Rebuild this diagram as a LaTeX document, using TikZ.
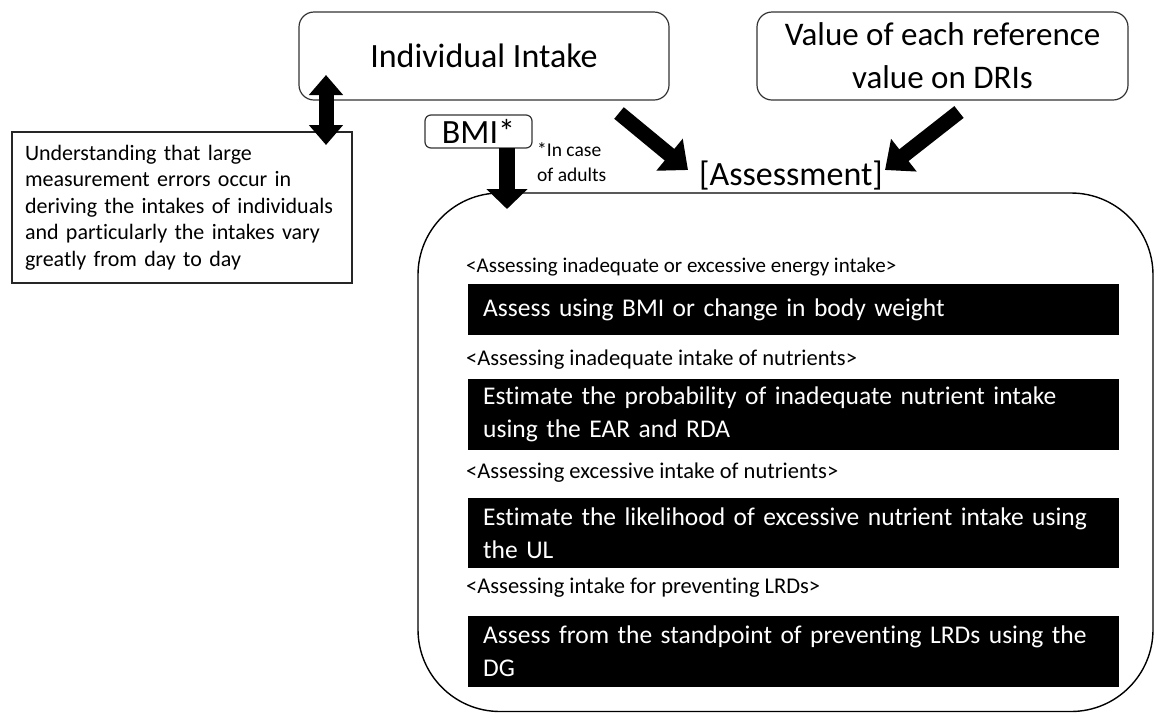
\documentclass[tikz,border=0pt]{standalone}
\usepackage{fontspec}
\setmainfont{Carlito}[Ligatures=NoCommon]
\usetikzlibrary{arrows.meta}
\begin{document}
\begin{tikzpicture}[x=1pt,y=-1pt,
  rbox/.style={draw=black!80, line width=1.2pt, rounded corners=15pt},
  blk/.style={fill=black, text=white, inner xsep=15pt, inner ysep=0pt, align=left,
    minimum width=651pt, text width=621pt, font=\fontsize{25.5}{33}\selectfont, anchor=west},
  lbl/.style={anchor=west, inner sep=0pt, font=\fontsize{22.5}{26}\selectfont},
  fat/.style={line width=15pt, -{Triangle[width=40pt,length=24pt]}},
  dbl/.style={line width=15pt, {Triangle[width=33pt,length=20pt]}-{Triangle[width=33pt,length=20pt]}}
]
\useasboundingbox (0,0) rectangle (1154,713);
% big assessment frame
\draw[line width=1.4pt, rounded corners=82pt] (418,193) rectangle (1153,711.5);
% top boxes
\node[rbox, minimum width=370pt, minimum height=88pt, font=\fontsize{34}{40}\selectfont] (intake) at (484,56) {Individual Intake};
\node[rbox, minimum width=371pt, minimum height=88pt, align=center, font=\fontsize{33}{43}\selectfont] (dri) at (942.5,56) {Value of each reference\\value on DRIs};
\node[rbox, rounded corners=6pt, minimum width=107pt, minimum height=33pt, inner sep=0pt, font=\fontsize{34}{36}\selectfont] (bmi) at (478.5,131.5) {BMI*};
\node[anchor=west, inner sep=0pt, align=left, font=\fontsize{19.5}{25}\selectfont] (note) at (537,162.5) {*In case\\of adults};
% left note
\node[draw=black!85, line width=1.1pt, minimum width=340pt, minimum height=151pt, text width=314pt, inner xsep=13pt, align=left, font=\fontsize{22}{26.5}\selectfont] (err) at (182,207.5) {Understanding that large\\measurement errors occur in\\deriving the intakes of individuals\\and particularly the intakes vary\\greatly from day to day};
% assessment title
\node[inner sep=0pt, font=\fontsize{34}{40}\selectfont] (assess) at (791,176) {[Assessment]};
% categories
\node[lbl, font=\fontsize{21}{26}\selectfont] (l1) at (466,267) {<Assessing inadequate or excessive energy intake>};
\node[blk, minimum height=51pt] (k1) at (468,309.5) {Assess using BMI or change in body weight};
\node[lbl] (l2) at (466,360) {<Assessing inadequate intake of nutrients>};
\node[blk, minimum height=71pt] (k2) at (468,414.5) {Estimate the probability of inadequate nutrient intake\\using the EAR and RDA};
\node[lbl] (l3) at (466,473) {<Assessing excessive intake of nutrients>};
\node[blk, minimum height=70pt] (k3) at (468,533) {Estimate the likelihood of excessive nutrient intake using\\the UL};
\node[lbl] (l4) at (466,588) {<Assessing intake for preventing LRDs>};
\node[blk, minimum height=71pt] (k4) at (468,651.5) {Assess from the standpoint of preventing LRDs using the\\DG};
% arrows
\coordinate (d1) at (326,75);
\coordinate (d2) at (326,145);
\draw[dbl] (d1) -- (d2);
\coordinate (a1) at (619,113);
\coordinate (a2) at (688,170);
\draw[fat] (a1) -- (a2);
\coordinate (b1) at (959,112);
\coordinate (b2) at (885,170);
\draw[fat] (b1) -- (b2);
\coordinate (c1) at (507,148);
\coordinate (c2) at (507,209);
\draw[line width=16pt, -{Triangle[width=40pt,length=20pt]}] (c1) -- (c2);
\end{tikzpicture}
\end{document}
